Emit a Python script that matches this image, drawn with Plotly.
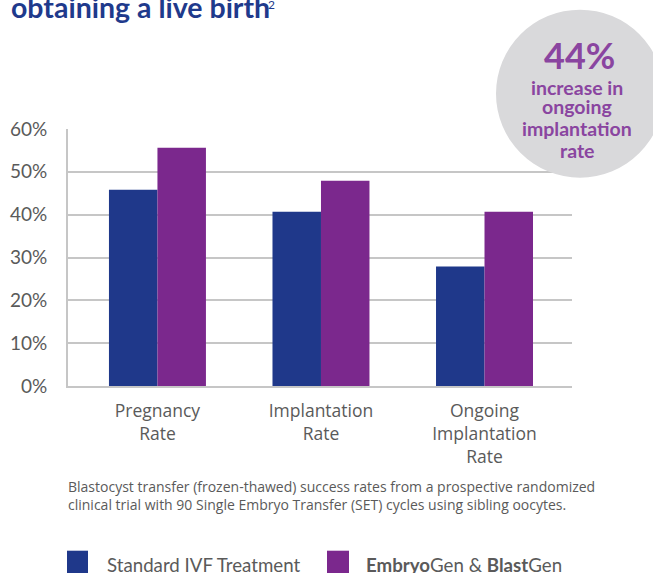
import plotly.graph_objects as go

categories = ["Pregnancy<br>Rate", "Implantation<br>Rate", "Ongoing<br>Implantation<br>Rate"]
standard_ivf = [45.8, 40.7, 27.9]
embryogen_blastgen = [55.6, 47.9, 40.7]
series_names = ["Standard IVF Treatment", "<b>Embryo</b>Gen & <b>Blast</b>Gen"]
y_ticks = [0, 10, 20, 30, 40, 50, 60]

BLUE = "#1f388a"
PURPLE = "#7b288d"
GRAY_TXT = "#5a5a5a"
GRID = "#c6c6c6"
FONT = "Lato"
FONT2 = "Open Sans"

W, H = 653, 573
X_LEFT, X_RIGHT, Y_TOP, Y_BOT = 68, 572, 129.3, 386.3  # plot area in image px
L = X_LEFT
R = W - X_RIGHT
T = Y_TOP
B = H - Y_BOT
PW, PH = W - L - R, H - T - B


def px(x):
    return (x - X_LEFT) / PW


def py(y):
    return (Y_BOT - y) / PH


fig = go.Figure()
fig.add_trace(go.Bar(x=categories, y=standard_ivf, name=series_names[0],
                     marker=dict(color=BLUE, line=dict(width=0))))
fig.add_trace(go.Bar(x=categories, y=embryogen_blastgen, name=series_names[1],
                     marker=dict(color=PURPLE, line=dict(width=0))))

fig.update_layout(
    width=W, height=H,
    margin=dict(l=L, r=R, t=T, b=B, autoexpand=False),
    paper_bgcolor="white", plot_bgcolor="white",
    barmode="group", bargap=0.407, bargroupgap=0,
    showlegend=False,
    font=dict(family=FONT, color=GRAY_TXT),
)
fig.update_xaxes(
    range=[-0.547, 2.535], showgrid=False, showline=True, linecolor=GRID, linewidth=2,
    ticks="", ticklabelstandoff=8,
    tickfont=dict(size=17.5, color=GRAY_TXT, family=FONT2), fixedrange=True,
)
fig.update_yaxes(
    range=[0, 60], tickvals=y_ticks, ticktext=[f"{v}%" for v in y_ticks],
    showgrid=True, gridcolor=GRID, gridwidth=1.5, showline=True, linecolor=GRID, linewidth=2,
    zeroline=False, ticks="", ticklabelstandoff=15,
    tickfont=dict(size=19, color=GRAY_TXT, family=FONT), fixedrange=True,
)

# circle callout
fig.add_shape(type="circle", xref="paper", yref="paper",
              xsizemode="pixel", ysizemode="pixel",
              xanchor=px(580), yanchor=py(94),
              x0=-84, x1=84, y0=-84, y1=84,
              fillcolor="#d9d9db", line=dict(width=0), layer="above")

CP = "#8a45a0"
fig.add_annotation(text="<b>44%</b>", x=px(579), y=py(55), xref="paper", yref="paper",
                   xanchor="center", yanchor="middle",
                   showarrow=False, font=dict(size=36, color=CP, family=FONT))
for txt, yy in [("increase in", 88), ("ongoing", 107), ("implantation", 129), ("rate", 151)]:
    fig.add_annotation(text=f"<b>{txt}</b>", x=px(577), y=py(yy), xref="paper", yref="paper",
                       xanchor="center", yanchor="middle",
                       showarrow=False, font=dict(size=19.5, color=CP, family=FONT))

# title (cut off at top)
fig.add_annotation(text="<b>obtaining a live birth</b>", x=px(9), y=py(7),
                   xref="paper", yref="paper", xanchor="left", yanchor="middle",
                   showarrow=False, font=dict(size=28.5, color="#1f3a8c", family=FONT))
fig.add_annotation(text="2", x=px(266), y=py(5),
                   xref="paper", yref="paper", xanchor="left", yanchor="middle",
                   showarrow=False, font=dict(size=12, color="#1f3a8c", family=FONT))

# caption
for txt, yy in [("Blastocyst transfer (frozen-thawed) success rates from a prospective randomized", 487),
                ("clinical trial with 90 Single Embryo Transfer (SET) cycles using sibling oocytes.", 505)]:
    fig.add_annotation(text=txt, x=px(66), y=py(yy), xref="paper", yref="paper",
                       xanchor="left", yanchor="middle", showarrow=False,
                       font=dict(size=14, color=GRAY_TXT, family=FONT2))

# legend
for (x0, x1, col, name, tx) in [(67, 88, BLUE, series_names[0], 105),
                               (327, 349, PURPLE, series_names[1], 364)]:
    fig.add_shape(type="rect", xref="paper", yref="paper",
                  x0=px(x0), x1=px(x1), y0=py(575), y1=py(551),
                  fillcolor=col, line=dict(width=0))
    fig.add_annotation(text=name, x=px(tx), y=py(565), xref="paper", yref="paper",
                       xanchor="left", yanchor="middle", showarrow=False,
                       font=dict(size=18.7, color=GRAY_TXT, family=FONT))

fig.write_html(
    "out.html",
    config={"displayModeBar": False},
    post_script="document.body.style.margin='0';document.body.style.overflow='hidden';",
)
